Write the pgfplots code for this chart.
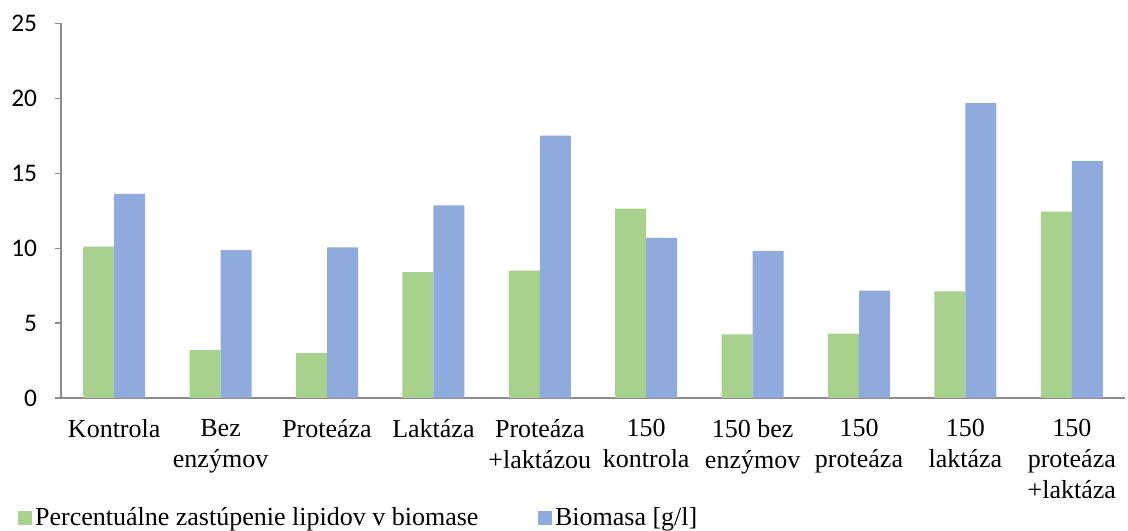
\documentclass[border=0pt]{standalone}
\usepackage{fontspec}
\setmainfont{Liberation Serif}
\newfontfamily\calibri{Carlito}
\usepackage{pgfplots}
\pgfplotsset{compat=1.18}
\definecolor{lipgreen}{HTML}{A9D18E}
\definecolor{bioblue}{HTML}{8FAADC}
\definecolor{axgray}{HTML}{8C8C8C}
\begin{document}
\begin{tikzpicture}
\begin{axis}[
  scale only axis,
  width=798pt, height=281pt,
  ybar=0pt, bar width=23.25pt,
  xmin=-0.5, xmax=9.5,
  ymin=0, ymax=25,
  ytick={0,5,...,25},
  xtick={0,...,9},
  xticklabels={Kontrola,{Bez\\enzýmov},Proteáza,Laktáza,{Proteáza\\+laktázou},{150\\kontrola},{150 bez\\enzýmov},{150\\proteáza},{150\\laktáza},{150\\proteáza\\+laktáza}},
  minor xtick={-0.5,0.5,...,9.5},
  axis lines*=left,
  axis line style={axgray, line width=0.9pt},
  tick align=outside,
  major tick length=4.5pt, minor tick length=4.5pt,
  xtick style={draw=none},
  ytick style={axgray, line width=0.9pt},
  minor tick style={axgray, line width=0.9pt},
  /pgf/number format/assume math mode=true,
  yticklabel style={font=\calibri\fontsize{19}{20}\selectfont, xshift=-10pt},
  xticklabel style={font=\fontsize{19.5}{23.3}\selectfont, align=center, anchor=north, yshift=-8pt},
  legend columns=2,
  legend style={draw=none, at={(-0.044,-0.277)}, anchor=north west,
    font=\fontsize{19.5}{21}\selectfont, column sep=0pt,
    /tikz/every even column/.append style={column sep=43pt}},
  legend image code/.code={\fill[#1] (0pt,-6pt) rectangle (10.5pt,4.5pt);},
]
\addplot[fill=lipgreen, draw=none] coordinates {
  (0,10.1) (1,3.2) (2,3.0) (3,8.4) (4,8.5) (5,12.64) (6,4.25) (7,4.3) (8,7.12) (9,12.44)
};
\addplot[fill=bioblue, draw=none] coordinates {
  (0,13.62) (1,9.86) (2,10.05) (3,12.85) (4,17.5) (5,10.68) (6,9.81) (7,7.17) (8,19.67) (9,15.8)
};
\legend{Percentuálne zastúpenie lipidov v biomase, Biomasa [g/l]}
\end{axis}
\pgfresetboundingbox
\path (-45.75pt,-99.75pt) rectangle (800.25pt,298.5pt);
\end{tikzpicture}
\end{document}
